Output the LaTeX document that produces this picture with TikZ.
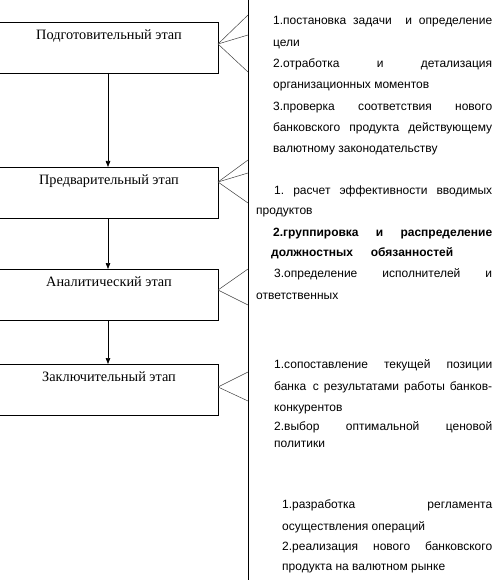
\documentclass[tikz,border=0pt]{standalone}
\usepackage{fontspec}
\setmainfont{Liberation Serif}
\newfontfamily\rsans{Liberation Sans}
\usetikzlibrary{arrows.meta}
\begin{document}
\begin{tikzpicture}[x=1pt,y=-1pt,
  stage/.style={draw,line width=0.9pt,minimum width=224pt,minimum height=51pt,inner sep=0pt,anchor=north west},
  stagetext/.style={font=\fontsize{14.3}{16}\selectfont,anchor=center},
  ln/.style={anchor=base west,inner sep=0pt,yshift=-3.6pt,font=\rsans\fontsize{12}{14}\selectfont},
  bln/.style={ln,font=\rsans\bfseries\fontsize{12}{14}\selectfont},
  fan/.style={line width=0.5pt,draw=black!75},
  flow/.style={line width=0.7pt,-{Triangle[length=6pt,width=4.5pt]}}]
\useasboundingbox (0,0) rectangle (498,580);
\begin{scope}
\clip (0,0) rectangle (498,580);
\node[stage] (b1) at (-6,22) {};
\node[stage] (b2) at (-6,167) {};
\node[stage] (b3) at (-6,269) {};
\node[stage] (b4) at (-6,364) {};
\end{scope}
\node[stagetext] (t1) at (109,36) {Подготовительный этап};
\node[stagetext] (t2) at (109,181) {Предварительный этап};
\node[stagetext] (t3) at (109,282) {Аналитический этап};
\node[stagetext] (t4) at (109,377) {Заключительный этап};
\coordinate (b1s) at (108,73);
\coordinate (b2n) at (108,167);
\coordinate (b2s) at (108,218);
\coordinate (b3n) at (108,269);
\coordinate (b3s) at (108,320);
\coordinate (b4n) at (108,364);
\draw[flow] (b1s) -- (b2n);
\draw[flow] (b2s) -- (b3n);
\draw[flow] (b3s) -- (b4n);
% vertical divider
\coordinate (vt) at (248.5,0);
\coordinate (vb) at (248.5,580);
\draw[line width=1.6pt] (vt) -- (vb);
% fans
\coordinate (a1) at (218,44);
\coordinate (a2) at (218,182);
\coordinate (a3) at (218,290);
\coordinate (a4) at (218,387);
\foreach \y in {15,35,72}{\draw[fan] (a1) -- (248,\y);}
\foreach \y in {160,173,203}{\draw[fan] (a2) -- (248,\y);}
\foreach \y in {269,305}{\draw[fan] (a3) -- (248,\y);}
\foreach \y in {372,401}{\draw[fan] (a4) -- (248,\y);}
% right column text
\def\J#1#2{\hbox to #1pt{#2}}
\node[ln] (l1) at (273,21) {\J{219}{1.постановка\hfill задачи\hfill\ \ и\hfill определение}};
\node[ln] (l2) at (273,43) {цели};
\node[ln] (l3) at (273,64) {\J{219}{2.отработка\hfill и\hfill детализация}};
\node[ln] (l4) at (273,85) {организационных моментов};
\node[ln] (l5) at (273,107) {\J{219}{3.проверка\hfill соответствия\hfill нового}};
\node[ln] (l6) at (273,128) {\J{219}{банковского\hfill продукта\hfill действующему}};
\node[ln] (l7) at (273,149) {валютному законодательству};
\node[ln] (l8) at (274,191) {\J{218}{1.\hfill расчет\hfill эффективности\hfill вводимых}};
\node[ln] (l9) at (256,211) {продуктов};
\node[bln] (l10) at (273,233) {\J{219}{2.группировка\hfill и\hfill распределение}};
\node[bln] (l11) at (271,253) {\J{182}{должностных\hfill обязанностей}};
\node[ln] (l12) at (274,274) {\J{218}{3.определение\hfill исполнителей\hfill и}};
\node[ln] (l13) at (256,296) {ответственных};
\node[ln] (l14) at (274,365) {\J{218}{1.сопоставление\hfill текущей\hfill позиции}};
\node[ln] (l15) at (274,387) {\J{218}{банка\ \ с\hfill результатами\hfill работы\hfill банков-}};
\node[ln] (l16) at (274,408) {конкурентов};
\node[ln] (l17) at (274,427) {\J{218}{2.выбор\hfill оптимальной\hfill ценовой}};
\node[ln] (l18) at (274,444) {политики};
\node[ln] (l19) at (282,505) {\J{210}{1.разработка\hfill регламента}};
\node[ln] (l20) at (282,527) {осуществления операций};
\node[ln] (l21) at (282,547) {\J{210}{2.реализация\hfill нового\hfill банковского}};
\node[ln] (l22) at (282,567) {продукта на валютном рынке};
\end{tikzpicture}
\end{document}
